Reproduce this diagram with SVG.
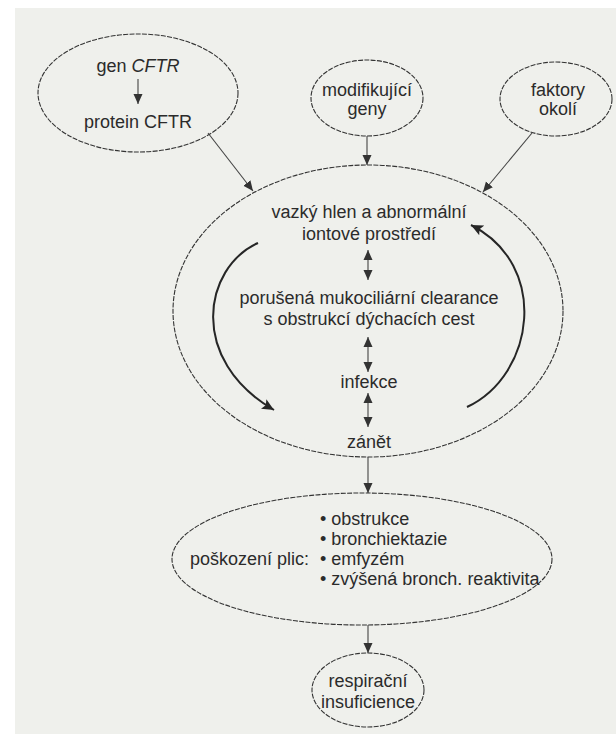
<svg xmlns="http://www.w3.org/2000/svg" width="616" height="734" viewBox="0 0 616 734">
  <style>
    .t { font-family: "Liberation Sans", Arial, Helvetica, sans-serif; font-size: 18px; fill: #2b2b2b; }
    .c { text-anchor: middle; }
    .node { fill: none; stroke: #333333; stroke-width: 1.1; stroke-dasharray: 5 1.3; }
    .link { fill: none; stroke: #444444; stroke-width: 1.1; }
    .cycle { fill: none; stroke: #262626; stroke-width: 2; }
  </style>
  <defs>
    <marker id="ah" markerUnits="userSpaceOnUse" markerWidth="10" markerHeight="10" refX="10" refY="5" orient="auto-start-reverse" viewBox="0 0 10 10">
      <path d="M0,0.5 L10,5 L0,9.5 z" fill="#333"/>
    </marker>
    <marker id="ahb" markerUnits="userSpaceOnUse" markerWidth="13" markerHeight="12" refX="12" refY="6" orient="auto" viewBox="0 0 13 12">
      <path d="M0,0.5 L12,6 L0,11.5 L2.5,6 z" fill="#262626"/>
    </marker>
  </defs>

  <rect x="0" y="0" width="616" height="734" fill="#ffffff"/>
  <rect x="15" y="8" width="601" height="726" fill="#eff0ec"/>

  <g id="gen-cftr">
    <ellipse class="node" cx="138" cy="93" rx="100" ry="59"/>
    <text class="t c" x="138" y="72">gen <tspan font-style="italic">CFTR</tspan></text>
    <line class="link" x1="138" y1="79" x2="138" y2="104" marker-end="url(#ah)"/>
    <text class="t c" x="138" y="128">protein CFTR</text>
  </g>

  <g id="modifikujici-geny">
    <ellipse class="node" cx="367" cy="98" rx="56" ry="38"/>
    <text class="t c" x="367" y="96">modifikující</text>
    <text class="t c" x="367" y="115">geny</text>
  </g>

  <g id="faktory-okoli">
    <ellipse class="node" cx="556" cy="99" rx="56" ry="37"/>
    <text class="t c" x="558" y="96">faktory</text>
    <text class="t c" x="558" y="115">okolí</text>
  </g>

  <g id="hlavni-cyklus">
    <ellipse class="node" cx="368" cy="311" rx="195" ry="146"/>
    <text class="t c" x="369" y="218">vazký hlen a abnormální</text>
    <text class="t c" x="369" y="240">iontové prostředí</text>
    <text class="t c" x="369" y="304">porušená mukociliární clearance</text>
    <text class="t c" x="369" y="325">s obstrukcí dýchacích cest</text>
    <text class="t c" x="369" y="388">infekce</text>
    <text class="t c" x="369" y="448">zánět</text>
  </g>

  <g id="poskozeni-plic">
    <ellipse class="node" cx="362" cy="559" rx="190" ry="66"/>
    <text class="t" x="190" y="565">poškození plic:</text>
    <text class="t" x="320" y="525">• obstrukce</text>
    <text class="t" x="320" y="545">• bronchiektazie</text>
    <text class="t" x="320" y="565">• emfyzém</text>
    <text class="t" x="320" y="585">• zvýšená bronch. reaktivita</text>
  </g>

  <g id="respiracni-insuficience">
    <ellipse class="node" cx="368" cy="690" rx="56" ry="37"/>
    <text class="t c" x="368" y="687">respirační</text>
    <text class="t c" x="368" y="708">insuficience</text>
  </g>

  <g id="connectors">
    <line class="link" x1="208" y1="133" x2="253" y2="191" marker-end="url(#ah)"/>
    <line class="link" x1="367" y1="136" x2="367" y2="165" marker-end="url(#ah)"/>
    <line class="link" x1="532" y1="133" x2="483" y2="192" marker-end="url(#ah)"/>
    <line class="link" x1="368" y1="250" x2="368" y2="280" marker-start="url(#ah)" marker-end="url(#ah)"/>
    <line class="link" x1="368" y1="337" x2="368" y2="372" marker-start="url(#ah)" marker-end="url(#ah)"/>
    <line class="link" x1="368" y1="393" x2="368" y2="427" marker-start="url(#ah)" marker-end="url(#ah)"/>
    <path class="cycle" d="M258,243 C203,268 188,360 274,410" marker-end="url(#ahb)"/>
    <path class="cycle" d="M467,407 C535,375 550,265 471,225" marker-end="url(#ahb)"/>
    <line class="link" x1="368" y1="457" x2="368" y2="493" marker-end="url(#ah)"/>
    <line class="link" x1="368" y1="625" x2="368" y2="653" marker-end="url(#ah)"/>
  </g>
</svg>
